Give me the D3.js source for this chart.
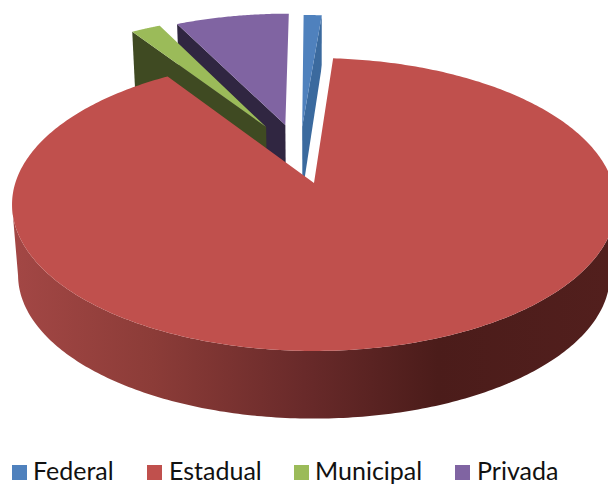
<!DOCTYPE html>
<html><head><meta charset="utf-8">
<script src="https://cdn.jsdelivr.net/npm/d3@7"></script>
<style>html,body{margin:0;padding:0;background:#fff}svg{display:block}</style>
</head><body><div id="c"></div>
<script>
const categories = ["Federal","Estadual","Municipal","Privada"];
const shares = [1.17, 89.56, 1.92, 7.35];
const topColors = ["#4F81BD","#C0504D","#9BBB59","#8064A2"];
const wallColors = ["#3B6A9E","#4F1E1C","#3F4A22","#302641"];

const W=608,H=484;
const svg=d3.select("#c").append("svg").attr("width",W).attr("height",H);

// perspective disc
const cx=314, cy=183, R=298.7, Hy=143.3, k=0.1468, baseScale=0.98, baseY=254;
// exploded slice origins on the disc plane
const origin={Federal:[-0.042,0.416],Estadual:[0,0],Municipal:[-0.17,0.414],Privada:[-0.102,0.43]};
const project=(a,b)=>{const s=1/(1+k*b);return [cx+R*a*s,cy-Hy*b*s];};
const toBase=p=>[cx+(p[0]-cx)*baseScale,baseY+(p[1]-cy)*baseScale];

const color=d3.scaleOrdinal(categories,topColors);
const wall=d3.scaleOrdinal(categories,wallColors);
const arcs=d3.pie().sort(null).value(d=>d.v)(categories.map((c,i)=>({c,v:shares[i]})));
const line=d3.line();
const rim=(d,n)=>d3.range(n+1).map(i=>{
  const t=d.startAngle+(d.endAngle-d.startAngle)*i/n,o=origin[d.data.c];
  return project(o[0]+Math.sin(t),o[1]+Math.cos(t));
});
const apex=d=>{const o=origin[d.data.c];return project(o[0],o[1]);};
const byName=n=>arcs.find(d=>d.data.c===n);

const defs=svg.append("defs");
const grad=defs.append("linearGradient").attr("id","side").attr("gradientUnits","userSpaceOnUse")
  .attr("x1",0).attr("x2",W).attr("y1",0).attr("y2",0);
[[0.02,"#A34745"],[0.25,"#8C3C38"],[0.5,"#692A2A"],[0.72,"#4B1C1A"],[1,"#521F1D"]]
  .forEach(([o,c])=>grad.append("stop").attr("offset",o).attr("stop-color",c));

function drawSlice(name,wallEdge){
  const d=byName(name),r=rim(d,60),a=apex(d);
  const e=wallEdge==="end"?r[r.length-1]:r[0];
  svg.append("path").attr("d",line([a,e,toBase(e),toBase(a)])+"Z").attr("fill",wall(name));
  svg.append("path").attr("d",line([a,...r])+"Z").attr("fill",color(name));
}
drawSlice("Privada","start");
drawSlice("Federal","end");
drawSlice("Municipal","start");

// estadual
const est=byName("Estadual"),estRim=rim(est,400),estApex=apex(est);
// white gap along its leading edge
svg.append("line").attr("x1",estApex[0]).attr("y1",estApex[1]).attr("x2",estRim[0][0]).attr("y2",estRim[0][1])
  .attr("stroke","#fff").attr("stroke-width",20);
const iR=d3.scan(estRim,(p,q)=>q[0]-p[0]),iL=d3.scan(estRim,(p,q)=>p[0]-q[0]);
const front=estRim.slice(iR,iL+1);
svg.append("path").attr("d",line([...front,...front.map(toBase).reverse()])+"Z").attr("fill","url(#side)");
svg.append("path").attr("d",line([estApex,...estRim])+"Z").attr("fill",color("Estadual"));

// legend
const legendSwatch=[12,147,294,455], legendText=[33,169,315,477];
const lg=svg.append("g");
categories.forEach((c,i)=>{
  lg.append("rect").attr("x",legendSwatch[i]).attr("y",465).attr("width",15).attr("height",15).attr("fill",color(c));
  lg.append("text").attr("x",legendText[i]).attr("y",480).text(c)
    .attr("font-family","Lato,sans-serif").attr("font-size",25).attr("fill","#111");
});
</script></body></html>
